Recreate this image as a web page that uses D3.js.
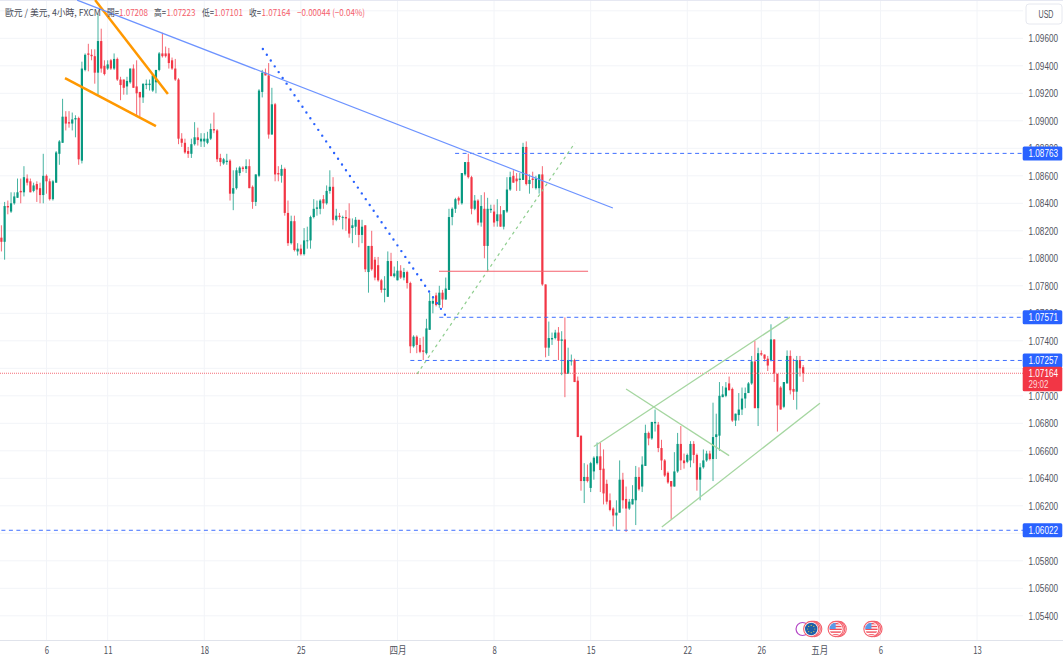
<!DOCTYPE html>
<html>
<head>
<meta charset="utf-8">
<script src="https://cdn.jsdelivr.net/npm/d3@7"></script>
<style>
  html, body { margin: 0; padding: 0; background: #fff; }
  svg { display: block; font-family: "Noto Sans CJK TC", "Noto Sans", sans-serif; }
</style>
</head>
<body>
<script>
// EUR/USD 4h candles (oldest first)
const opens = [
  1.0815,1.0812,1.0838,1.0834,1.0840,1.0844,1.0849,1.0848,1.0858,1.0856,
  1.0849,1.0854,1.0851,1.0846,1.0860,1.0856,1.0843,1.0855,1.0876,1.0884,
  1.0903,1.0899,1.0898,1.0901,1.0902,1.0871,1.0937,1.0949,1.0948,1.0947,
  1.0935,1.0958,1.0940,1.0938,1.0944,1.0938,1.0945,1.0930,1.0930,1.0925,
  1.0928,1.0938,1.0925,1.0921,1.0917,1.0926,1.0926,1.0922,1.0928,1.0937,
  1.0949,1.0949,1.0949,1.0944,1.0938,1.0930,1.0887,1.0884,1.0878,1.0876,
  1.0883,1.0888,1.0885,1.0885,1.0884,1.0887,1.0894,1.0893,1.0873,1.0869,
  1.0870,1.0871,1.0847,1.0851,1.0862,1.0866,1.0865,1.0867,1.0852,1.0841,
  1.0860,1.0921,1.0935,1.0933,1.0890,1.0912,1.0862,1.0860,1.0865,1.0833,
  1.0811,1.0827,1.0805,1.0807,1.0803,1.0813,1.0813,1.0830,1.0836,1.0836,
  1.0843,1.0840,1.0849,1.0852,1.0828,1.0831,1.0830,1.0830,1.0829,1.0822,
  1.0823,1.0828,1.0817,1.0824,1.0790,1.0809,1.0799,1.0795,1.0784,1.0777,
  1.0772,1.0798,1.0787,1.0784,1.0791,1.0786,1.0790,1.0782,1.0736,1.0743,
  1.0737,1.0733,1.0731,1.0748,1.0767,1.0773,1.0766,1.0775,1.0770,1.0777,
  1.0830,1.0836,1.0844,1.0840,1.0861,1.0870,1.0859,1.0836,1.0842,1.0826,
  1.0836,1.0809,1.0835,1.0834,1.0827,1.0832,1.0823,1.0834,1.0850,1.0860,
  1.0858,1.0857,1.0857,1.0881,1.0854,1.0858,1.0851,1.0851,1.0861,1.0781,
  1.0735,1.0741,1.0742,1.0746,1.0740,1.0741,1.0716,1.0725,1.0726,1.0711,
  1.0671,1.0638,1.0641,1.0633,1.0645,1.0651,1.0656,1.0647,1.0636,1.0624,
  1.0618,1.0613,1.0615,1.0639,1.0625,1.0618,1.0621,1.0624,1.0641,1.0634,
  1.0649,1.0673,1.0669,1.0680,1.0679,1.0662,1.0653,1.0644,1.0638,1.0634,
  1.0645,1.0665,1.0653,1.0652,1.0653,1.0665,1.0657,1.0639,1.0648,1.0653,
  1.0658,1.0654,1.0670,1.0671,1.0699,1.0700,1.0709,1.0705,1.0682,1.0686,
  1.0690,1.0698,1.0702,1.0709,1.0725,1.0691,1.0731,1.0730,1.0727,1.0726,
  1.0741,1.0716,1.0706,1.0692,1.0709,1.0729,1.0705,1.0703,1.0726,1.07208
];
const highs = [
  1.0824,1.0841,1.0842,1.0848,1.0848,1.0858,1.0858,1.0867,1.0861,1.0858,
  1.0855,1.0856,1.0855,1.0876,1.0861,1.0858,1.0857,1.0878,1.0886,1.0916,
  1.0907,1.0907,1.0906,1.0904,1.0903,1.0943,1.0949,1.0956,1.0952,1.0952,
  1.0978,1.0967,1.0944,1.0944,1.0945,1.0949,1.0946,1.0932,1.0930,1.0932,
  1.0938,1.0941,1.0944,1.0921,1.0927,1.0930,1.0930,1.0933,1.0937,1.0950,
  1.0964,1.0954,1.0953,1.0946,1.0945,1.0931,1.0891,1.0887,1.0881,1.0887,
  1.0899,1.0895,1.0891,1.0891,1.0892,1.0898,1.0906,1.0894,1.0876,1.0873,
  1.0876,1.0872,1.0864,1.0866,1.0867,1.0867,1.0872,1.0872,1.0853,1.0861,
  1.0923,1.0937,1.0938,1.0942,1.0924,1.0913,1.0867,1.0868,1.0866,1.0842,
  1.0831,1.0831,1.0811,1.0810,1.0822,1.0823,1.0831,1.0843,1.0842,1.0843,
  1.0846,1.0853,1.0864,1.0859,1.0836,1.0833,1.0831,1.0835,1.0840,1.0829,
  1.0830,1.0828,1.0828,1.0824,1.0809,1.0820,1.0801,1.0801,1.0785,1.0787,
  1.0805,1.0804,1.0794,1.0798,1.0795,1.0793,1.0791,1.0783,1.0744,1.0744,
  1.0742,1.0743,1.0756,1.0775,1.0772,1.0775,1.0780,1.0777,1.0786,1.0836,
  1.0837,1.0844,1.0845,1.0862,1.0870,1.0876,1.0860,1.0846,1.0843,1.0846,
  1.0848,1.0844,1.0839,1.0839,1.0843,1.0838,1.0835,1.0859,1.0863,1.0864,
  1.0862,1.0862,1.0884,1.0885,1.0861,1.0863,1.0860,1.0861,1.0867,1.0781,
  1.0754,1.0746,1.0748,1.0750,1.0747,1.0757,1.0735,1.0730,1.0727,1.0714,
  1.0671,1.0651,1.0650,1.0652,1.0656,1.0666,1.0666,1.0661,1.0639,1.0629,
  1.0619,1.0624,1.0653,1.0644,1.0634,1.0625,1.0635,1.0649,1.0648,1.0656,
  1.0679,1.0674,1.0681,1.0690,1.0681,1.0668,1.0654,1.0645,1.0638,1.0659,
  1.0673,1.0678,1.0658,1.0658,1.0667,1.0667,1.0658,1.0651,1.0661,1.0660,
  1.0660,1.0695,1.0687,1.0710,1.0707,1.0710,1.0714,1.0706,1.0687,1.0702,
  1.0706,1.0706,1.0710,1.0729,1.0740,1.0735,1.0733,1.0730,1.0729,1.0752,
  1.0741,1.0716,1.0707,1.0710,1.0733,1.0733,1.0727,1.0729,1.0729,1.07223
];
const lows = [
  1.0805,1.0799,1.0832,1.0833,1.0839,1.0844,1.0840,1.0845,1.0853,1.0848,
  1.0848,1.0841,1.0840,1.0840,1.0847,1.0842,1.0842,1.0855,1.0868,1.0884,
  1.0893,1.0895,1.0893,1.0888,1.0868,1.0869,1.0936,1.0936,1.0944,1.0927,
  1.0919,1.0935,1.0933,1.0937,1.0937,1.0937,1.0929,1.0915,1.0919,1.0919,
  1.0927,1.0924,1.0904,1.0903,1.0913,1.0923,1.0922,1.0921,1.0920,1.0936,
  1.0946,1.0946,1.0938,1.0937,1.0929,1.0883,1.0881,1.0876,1.0873,1.0873,
  1.0882,1.0882,1.0881,1.0881,1.0883,1.0886,1.0891,1.0870,1.0867,1.0868,
  1.0868,1.0842,1.0835,1.0850,1.0860,1.0863,1.0862,1.0851,1.0836,1.0838,
  1.0859,1.0917,1.0933,1.0887,1.0890,1.0856,1.0856,1.0855,1.0831,1.0809,
  1.0810,1.0805,1.0802,1.0802,1.0802,1.0807,1.0807,1.0829,1.0831,1.0832,
  1.0836,1.0839,1.0847,1.0824,1.0827,1.0828,1.0821,1.0820,1.0815,1.0811,
  1.0817,1.0808,1.0811,1.0790,1.0775,1.0791,1.0784,1.0783,1.0775,1.0768,
  1.0772,1.0787,1.0786,1.0784,1.0785,1.0784,1.0778,1.0731,1.0735,1.0731,
  1.0731,1.0726,1.0730,1.0748,1.0760,1.0765,1.0764,1.0764,1.0770,1.0777,
  1.0824,1.0833,1.0839,1.0839,1.0860,1.0858,1.0832,1.0835,1.0824,1.0823,
  1.0800,1.0791,1.0833,1.0823,1.0823,1.0823,1.0821,1.0833,1.0849,1.0855,
  1.0849,1.0849,1.0857,1.0853,1.0847,1.0851,1.0850,1.0847,1.0780,1.0728,
  1.0729,1.0737,1.0741,1.0726,1.0715,1.0699,1.0716,1.0722,1.0710,1.0670,
  1.0631,1.0622,1.0637,1.0630,1.0639,1.0650,1.0630,1.0621,1.0621,1.0616,
  1.0605,1.0602,1.0615,1.0618,1.0601,1.0617,1.0621,1.0606,1.0631,1.0630,
  1.0649,1.0664,1.0668,1.0674,1.0659,1.0646,1.0641,1.0636,1.0610,1.0634,
  1.0644,1.0646,1.0647,1.0651,1.0648,1.0651,1.0631,1.0624,1.0647,1.0652,
  1.0653,1.0638,1.0654,1.0660,1.0699,1.0699,1.0704,1.0681,1.0678,1.0682,
  1.0686,1.0691,1.0702,1.0708,1.0691,1.0678,1.0729,1.0725,1.0718,1.0725,
  1.0710,1.0674,1.0690,1.0691,1.0709,1.0701,1.0697,1.0690,1.0714,1.07101
];
const closes = [
  1.0812,1.0838,1.0837,1.0840,1.0845,1.0848,1.0848,1.0859,1.0855,1.0848,
  1.0853,1.0850,1.0846,1.0860,1.0856,1.0843,1.0856,1.0877,1.0885,1.0903,
  1.0898,1.0898,1.0901,1.0902,1.0872,1.0938,1.0948,1.0948,1.0947,1.0935,
  1.0958,1.0938,1.0934,1.0941,1.0938,1.0945,1.0930,1.0926,1.0924,1.0929,
  1.0938,1.0924,1.0920,1.0917,1.0927,1.0927,1.0927,1.0933,1.0937,1.0949,
  1.0947,1.0947,1.0942,1.0938,1.0930,1.0887,1.0884,1.0877,1.0876,1.0883,
  1.0888,1.0886,1.0887,1.0887,1.0887,1.0894,1.0893,1.0872,1.0870,1.0872,
  1.0871,1.0847,1.0851,1.0864,1.0866,1.0865,1.0867,1.0851,1.0841,1.0861,
  1.0922,1.0935,1.0933,1.0890,1.0912,1.0861,1.0861,1.0865,1.0833,1.0811,
  1.0827,1.0806,1.0807,1.0803,1.0813,1.0813,1.0830,1.0836,1.0837,1.0842,
  1.0840,1.0849,1.0852,1.0828,1.0831,1.0830,1.0830,1.0829,1.0818,1.0824,
  1.0828,1.0817,1.0823,1.0792,1.0809,1.0792,1.0786,1.0784,1.0777,1.0778,
  1.0798,1.0787,1.0789,1.0791,1.0786,1.0790,1.0782,1.0736,1.0743,1.0737,
  1.0732,1.0732,1.0749,1.0769,1.0769,1.0766,1.0775,1.0770,1.0778,1.0830,
  1.0836,1.0843,1.0842,1.0862,1.0870,1.0859,1.0836,1.0842,1.0826,1.0838,
  1.0809,1.0836,1.0836,1.0826,1.0832,1.0823,1.0835,1.0850,1.0859,1.0855,
  1.0856,1.0858,1.0881,1.0854,1.0857,1.0857,1.0858,1.0861,1.0781,1.0735,
  1.0742,1.0742,1.0746,1.0740,1.0741,1.0716,1.0726,1.0726,1.0710,1.0670,
  1.0638,1.0641,1.0638,1.0651,1.0655,1.0656,1.0646,1.0629,1.0623,1.0617,
  1.0613,1.0615,1.0639,1.0624,1.0618,1.0623,1.0625,1.0641,1.0632,1.0650,
  1.0673,1.0669,1.0681,1.0681,1.0662,1.0653,1.0642,1.0637,1.0634,1.0645,
  1.0665,1.0653,1.0651,1.0657,1.0665,1.0657,1.0639,1.0648,1.0653,1.0658,
  1.0654,1.0670,1.0672,1.0700,1.0701,1.0706,1.0704,1.0682,1.0687,1.0690,
  1.0698,1.0702,1.0709,1.0725,1.0691,1.0731,1.0730,1.0727,1.0722,1.0741,
  1.0716,1.0693,1.0690,1.0710,1.0729,1.0704,1.0703,1.0726,1.0720,1.07164
];

// axis labels
const priceTicks = [1.054,1.056,1.058,1.060,1.062,1.064,1.066,1.068,1.070,1.072,1.074,1.076,1.078,
                    1.080,1.082,1.084,1.086,1.088,1.090,1.092,1.094,1.096];
const dateBars = [14, 33, 63, 93, 123, 153, 183, 213, 236, 254, 273, 303];
const dateLabels = ["6", "11", "18", "25", "四月", "8", "15", "22", "26", "五月", "6", "13"];

// drawings: [bar, price, bar, price]
const orangeLines = [[29.1, 1.09878, 51.7, 1.09195], [19.75, 1.09311, 48.0, 1.08962]];
const blueTrend = [23.5, 1.09878, 189.9, 1.08366];
const dottedTrend = [81.2, 1.09522, 137.8, 1.07588];
const dashedGreen = [129.1, 1.07159, 178.1, 1.08839];
const redLevel = [135.9, 1.07906, 182.2, 1.07906];
const channelLines = [
  [184.0, 1.06631, 244.9, 1.07572],
  [205.1, 1.06045, 254.2, 1.06946],
  [194.0, 1.0705, 226.0, 1.06565]
];

// horizontal levels with their price tags
const levelPrices = [1.08763, 1.07571, 1.07257, 1.06022];
const levelStartBars = [140.9, 136, 127, 0];
const lastPrice = 1.07164;
const countdown = "29:02";

// header
const headerLabels = ["歐元 / 美元, 4小時, FXCM", "開=", "高=", "低=", "收="];
const headerValues = ["1.07208", "1.07223", "1.07101", "1.07164", "−0.00044 (−0.04%)"];

// calendar events under the chart
const eventBars = [248.8, 251.5, 259.1, 270.2];
const eventKinds = ["earn", "eu", "us", "us"];

const width = 1063, height = 661;
const plotRight = 1023, plotBottom = 640;
const upColor = "#089981", downColor = "#f23645", accent = "#2962ff";
const gridColor = "#f2f4f8", textColor = "#50535e";
const priceFont = '"Liberation Sans", sans-serif';

const x = d3.scaleLinear().domain([0, 249]).range([1.4, 1.4 + 249 * 3.22]);
const y = d3.scaleLinear().domain([1.054, 1.096]).range([615.8, 38.3]);

// the reference text is narrower than any installed font, so squeeze to the measured width
function squeeze(sel, w) {
  return sel.attr("textLength", w).attr("lengthAdjust", "spacingAndGlyphs");
}

const svg = d3.select("body").append("svg")
    .attr("width", width)
    .attr("height", height)
    .attr("viewBox", [0, 0, width, height]);

svg.append("defs").append("clipPath").attr("id", "plot")
  .append("rect").attr("width", plotRight).attr("height", plotBottom);

// grid
const grid = svg.append("g").attr("stroke", gridColor);
grid.selectAll(".h")
  .data(priceTicks.concat([1.098]))
  .join("line")
    .attr("x1", 0).attr("x2", plotRight)
    .attr("y1", d => y(d)).attr("y2", d => y(d));
grid.selectAll(".v")
  .data(dateBars)
  .join("line")
    .attr("x1", d => x(d)).attr("x2", d => x(d))
    .attr("y1", 0).attr("y2", plotBottom);

svg.append("line").attr("x1", 0).attr("x2", width).attr("y1", 0.5).attr("y2", 0.5).attr("stroke", "#e6e8f2");

const plot = svg.append("g").attr("clip-path", "url(#plot)");

// candles
const bars = plot.append("g").selectAll("g")
  .data(d3.range(opens.length))
  .join("g")
    .attr("fill", i => closes[i] >= opens[i] ? upColor : downColor)
    .attr("stroke", i => closes[i] >= opens[i] ? upColor : downColor);

bars.append("line")
    .attr("stroke-width", 0.75)
    .attr("x1", i => x(i)).attr("x2", i => x(i))
    .attr("y1", i => y(highs[i])).attr("y2", i => y(lows[i]));

bars.append("rect")
    .attr("stroke", "none")
    .attr("x", i => x(i) - 1.1)
    .attr("width", 2.2)
    .attr("y", i => y(Math.max(opens[i], closes[i])))
    .attr("height", i => Math.max(0.8, Math.abs(y(opens[i]) - y(closes[i]))));

function drawSegment(seg, color, w) {
  return plot.append("line")
      .attr("x1", x(seg[0])).attr("y1", y(seg[1]))
      .attr("x2", x(seg[2])).attr("y2", y(seg[3]))
      .attr("stroke", color)
      .attr("stroke-width", w);
}

// levels and price line
levelPrices.forEach((p, i) => {
  plot.append("line")
      .attr("x1", x(levelStartBars[i])).attr("x2", plotRight)
      .attr("y1", y(p)).attr("y2", y(p))
      .attr("stroke", "#3f6fff")
      .attr("stroke-width", 1)
      .attr("stroke-dasharray", "4 3.5");
});
plot.append("line")
    .attr("x1", 0).attr("x2", plotRight)
    .attr("y1", y(lastPrice)).attr("y2", y(lastPrice))
    .attr("stroke", "#f56c77")
    .attr("stroke-dasharray", "1 1");

// drawings
orangeLines.forEach(s => drawSegment(s, "#ff9800", 2.5));
drawSegment(blueTrend, "#6d93ff", 1.2);
drawSegment(dottedTrend, accent, 2.4)
    .attr("stroke-linecap", "round")
    .attr("stroke-dasharray", "0 7");
drawSegment(dashedGreen, "#8fce8f", 1.2).attr("stroke-dasharray", "3 3.5");
drawSegment(redLevel, "#f4606c", 1.1);
channelLines.forEach(s => drawSegment(s, "#a5d6a0", 1.3));

// time axis
svg.append("line").attr("x1", 0).attr("x2", width)
    .attr("y1", plotBottom + 0.5).attr("y2", plotBottom + 0.5).attr("stroke", "#e0e3eb");
const xAxis = svg.append("g")
    .attr("transform", `translate(0,${plotBottom})`)
    .call(d3.axisBottom(x).tickValues(dateBars).tickFormat((d, i) => dateLabels[i]).tickSize(0).tickPadding(7));
xAxis.select(".domain").remove();
xAxis.selectAll("text").attr("fill", textColor).attr("font-size", 10.5)
    .attr("font-family", '"Noto Sans CJK TC", sans-serif')
    .attr("textLength", (d, i) => dateLabels[i].length === 2 && dateLabels[i] > "9" ? 17 : dateLabels[i].length * 4.3)
    .attr("lengthAdjust", "spacingAndGlyphs");

// price axis
const yAxis = svg.append("g")
    .attr("transform", `translate(${plotRight},0)`)
    .call(d3.axisRight(y).tickValues(priceTicks).tickFormat(d3.format(".5f")).tickSize(0).tickPadding(5.5));
yAxis.select(".domain").remove();
squeeze(yAxis.selectAll("text"), 29.5)
    .attr("fill", textColor).attr("font-size", 10)
    .attr("font-family", priceFont);

// USD button
svg.append("rect")
    .attr("x", 1026).attr("y", 4).attr("width", 36).attr("height", 20).attr("rx", 3)
    .attr("fill", "#fff").attr("stroke", "#e6e8ef");
squeeze(svg.append("text"), 15).attr("x", 1046).attr("y", 18).attr("text-anchor", "middle")
    .attr("font-size", 10).attr("font-family", priceFont)
    .attr("fill", textColor).text("USD");

// price tags
levelPrices.forEach(p => {
  svg.append("rect")
      .attr("x", plotRight - 0.3).attr("y", y(p) - 7).attr("width", 39.6).attr("height", 14)
      .attr("rx", 1.5).attr("fill", accent);
  squeeze(svg.append("text"), 29.5)
      .attr("x", plotRight + 5.5).attr("y", y(p) + 3.6)
      .attr("font-size", 10).attr("font-family", priceFont).attr("fill", "#fff")
      .text(d3.format(".5f")(p));
});
svg.append("rect")
    .attr("x", plotRight - 0.3).attr("y", y(lastPrice) - 6.5).attr("width", 39.6).attr("height", 24.5)
    .attr("rx", 1.5).attr("fill", downColor);
squeeze(svg.append("text"), 29.5)
    .attr("x", plotRight + 5.5).attr("y", y(lastPrice) + 3.6)
    .attr("font-size", 10).attr("font-family", priceFont).attr("fill", "#fff")
    .text(d3.format(".5f")(lastPrice));
squeeze(svg.append("text"), 20)
    .attr("x", plotRight + 5.5).attr("y", y(lastPrice) + 15).attr("font-size", 10)
    .attr("font-family", priceFont).attr("fill", "#ffd6da")
    .text(countdown);

// header line
const header = svg.append("g").attr("font-size", 9.5);
const labelX = [5, 107, 154, 202, 249];
const labelW = [96, 12, 12, 12, 12];
const valueX = [119, 166.5, 214, 261.5, 297];
const valueW = [29, 29, 29, 29, 68];
header.selectAll(".lab")
  .data(headerLabels)
  .join("text")
    .attr("x", (d, i) => labelX[i]).attr("y", 15.5)
    .attr("textLength", (d, i) => labelW[i]).attr("lengthAdjust", "spacingAndGlyphs")
    .attr("fill", "#4a4d58")
    .text(d => d);
header.selectAll(".val")
  .data(headerValues)
  .join("text")
    .attr("x", (d, i) => valueX[i]).attr("y", 15.5)
    .attr("textLength", (d, i) => valueW[i]).attr("lengthAdjust", "spacingAndGlyphs")
    .attr("fill", "#f4606c")
    .text(d => d);

// calendar events
const eventY = 629;
eventBars.forEach((b, i) => {
  const cx = x(b), kind = eventKinds[i];
  const g = svg.append("g");
  if (kind === "earn") {
    g.append("circle").attr("cx", cx).attr("cy", eventY).attr("r", 6.5)
        .attr("fill", "#fff").attr("stroke", "#b548c6").attr("stroke-width", 1.2);
    return;
  }
  [3, 1.5, 0].forEach(dx => {
    g.append("circle").attr("cx", cx + dx).attr("cy", eventY).attr("r", 7.6)
        .attr("fill", "#fff").attr("stroke", "#f4606c").attr("stroke-width", 1.1);
  });
  if (kind === "eu") {
    g.append("circle").attr("cx", cx).attr("cy", eventY).attr("r", 6.2).attr("fill", "#1f5fa8");
    d3.range(8).forEach(k => {
      const a = k / 8 * 2 * Math.PI;
      g.append("circle").attr("cx", cx + 3.6 * Math.cos(a)).attr("cy", eventY + 3.6 * Math.sin(a))
          .attr("r", 0.6).attr("fill", "#d9c64a");
    });
  } else {
    const id = "us" + i;
    g.append("clipPath").attr("id", id).append("circle")
        .attr("cx", cx).attr("cy", eventY).attr("r", 6.2);
    const flag = g.append("g").attr("clip-path", `url(#${id})`);
    d3.range(5).forEach(k => {
      flag.append("rect").attr("x", cx - 7).attr("y", eventY - 6 + k * 2.8).attr("width", 14).attr("height", 1.4)
          .attr("fill", "#f0505c");
    });
    flag.append("rect").attr("x", cx - 7).attr("y", eventY - 7).attr("width", 7).attr("height", 7)
        .attr("fill", "#5b9ae8");
  }
});
</script>
</body>
</html>
